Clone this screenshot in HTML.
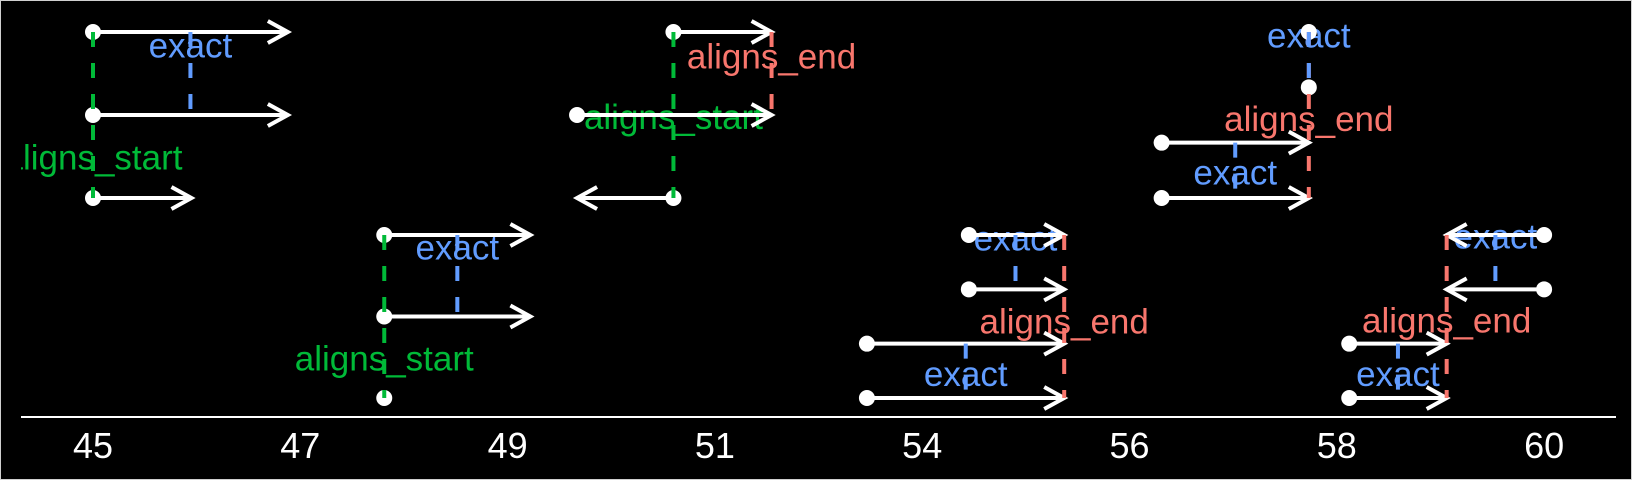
<!DOCTYPE html>
<html><head><meta charset="utf-8">
<style>
html,body{margin:0;padding:0;background:#000;}
svg{display:block;}
text{font-family:"Liberation Sans",Arial,sans-serif;}
</style></head>
<body>
<svg id="chart" width="1632" height="480" viewBox="0 0 1632 480" xmlns="http://www.w3.org/2000/svg">
<defs><clipPath id="plotclip"><rect x="21" y="0" width="1595" height="417"/></clipPath></defs>
<rect x="0.5" y="0.5" width="1631" height="479" fill="#000" stroke="#d0d0d0" stroke-width="1"/>
<g id="labels" clip-path="url(#plotclip)"></g>
<g id="arrows"></g>
<g id="points"></g>
<g id="guides"></g>
<line x1="21" y1="417" x2="1616" y2="417" stroke="#fff" stroke-width="2"/>
<g id="ticks"></g>
</svg>
<script>
// axis ticks (equally spaced breaks)
const tickValues = [45, 47, 49, 51, 54, 56, 58, 60];
const tickLabels = ["45", "47", "49", "51", "54", "56", "58", "60"];

// panels: rows per group
const groupPanel = [0, 1, 0, 1, 0, 1];
const groupRows  = [3, 3, 3, 4, 4, 4];

// intervals: group, row, start, end (start == end -> point only)
const segGroup = [0,0,0, 1,1,1, 2,2,2, 3,3,3,3, 4,4,4,4, 5,5,5,5];
const segRow   = [0,1,2, 0,1,2, 0,1,2, 0,1,2,3, 0,1,2,3, 0,1,2,3];
const segStart = [45,45,45, 47.81,47.81,47.81, 50.6,49.67,50.6, 54.45,54.45,53.2,53.2, 57.73,57.73,56.31,56.31, 60,60,58.12,58.12];
const segEnd   = [46.88,46.88,45.95, 49.22,49.22,47.81, 51.82,51.82,49.67, 55.37,55.37,55.37,55.37, 57.73,57.73,57.73,57.73, 59.06,59.06,59.06,59.06];

// guides: group, x, row from, row to, label row, kind
const guideGroup = [0,0, 1,1, 2,2, 3,3,3, 4,4,4, 5,5,5];
const guideX     = [45.94,45, 48.515,47.81, 50.6,51.82, 54.9,55.37,54.42, 57.73,57.73,57.02, 59.53,59.06,58.59];
const guideFrom  = [0,0, 0,0, 0,0, 0,0,2, 0,0,2, 0,0,2];
const guideTo    = [1,2, 1,2, 2,1, 1,3,3, 3,1,3, 1,3,3];
const guideLabRow= [0.17,1.52, 0.16,1.52, 1.03,0.3, 0.07,1.6,2.57, 1.58,0.07,2.55, 0.04,1.58,2.57];
const guideKind  = ["exact","aligns_start","exact","aligns_start","aligns_start","aligns_end","exact","aligns_end","exact","aligns_end","exact","exact","exact","aligns_end","exact"];

const kindColor = {exact:"#619CFF", aligns_start:"#00BA38", aligns_end:"#F8766D"};
const NS = "http://www.w3.org/2000/svg";
const X0 = 93, XSTEP = 207.3;
const panelTop = [32, 235], panelBot = [198, 398];

function xScale(v){
  const t = tickValues;
  let i = 0;
  if (v <= t[0]) i = 0; else if (v >= t[t.length-1]) i = t.length-2;
  else { while (!(v >= t[i] && v <= t[i+1])) i++; }
  return X0 + XSTEP*(i + (v - t[i])/(t[i+1]-t[i]));
}
function yScale(g, r){
  const p = groupPanel[g], n = groupRows[g];
  return panelTop[p] + (panelBot[p]-panelTop[p]) * r/(n-1);
}
function mk(tag, attrs, parent){
  const el = document.createElementNS(NS, tag);
  for (const k in attrs) el.setAttribute(k, attrs[k]);
  parent.appendChild(el); return el;
}

const gT = document.getElementById('ticks');
tickValues.forEach((v,i)=>{
  const t = mk('text', {x:xScale(v), y:458, fill:'#fff', 'font-size':36, 'text-anchor':'middle'}, gT);
  t.textContent = tickLabels[i];
  
  
});

const gL = document.getElementById('labels');
const gG = document.getElementById('guides');
guideX.forEach((v,i)=>{
  const g = guideGroup[i], c = kindColor[guideKind[i]], x = xScale(v);
  const ln = mk('line', {x1:x, x2:x, y1:yScale(g, guideFrom[i]), y2:yScale(g, guideTo[i]), stroke:c, 'stroke-width':4, 'stroke-dasharray':'15 16'}, gG);
  
  
  const t = mk('text', {x:x, y:yScale(g, guideLabRow[i]), fill:c, 'font-size':35, 'text-anchor':'middle', 'dominant-baseline':'central'}, gL);
  t.textContent = guideKind[i];
  
  
});

const gA = document.getElementById('arrows');
const gP = document.getElementById('points');
segStart.forEach((s,i)=>{
  const g = segGroup[i], y = yScale(g, segRow[i]);
  const x1 = xScale(s), x2 = xScale(segEnd[i]);
  if (Math.abs(x2-x1) > 1){
    const ln = mk('line', {x1:x1, y1:y, x2:x2, y2:y, stroke:'#fff', 'stroke-width':4}, gA);
    
    
    const d = x2 > x1 ? -1 : 1;
    const hd = mk('polyline', {points:`${x2+d*20},${y-11} ${x2},${y} ${x2+d*20},${y+11}`, fill:'none', stroke:'#fff', 'stroke-width':4}, gA);
    
    
  }
  const c = mk('circle', {cx:x1, cy:y, r:8, fill:'#fff'}, gP);
  
  
});
</script>
</body></html>
